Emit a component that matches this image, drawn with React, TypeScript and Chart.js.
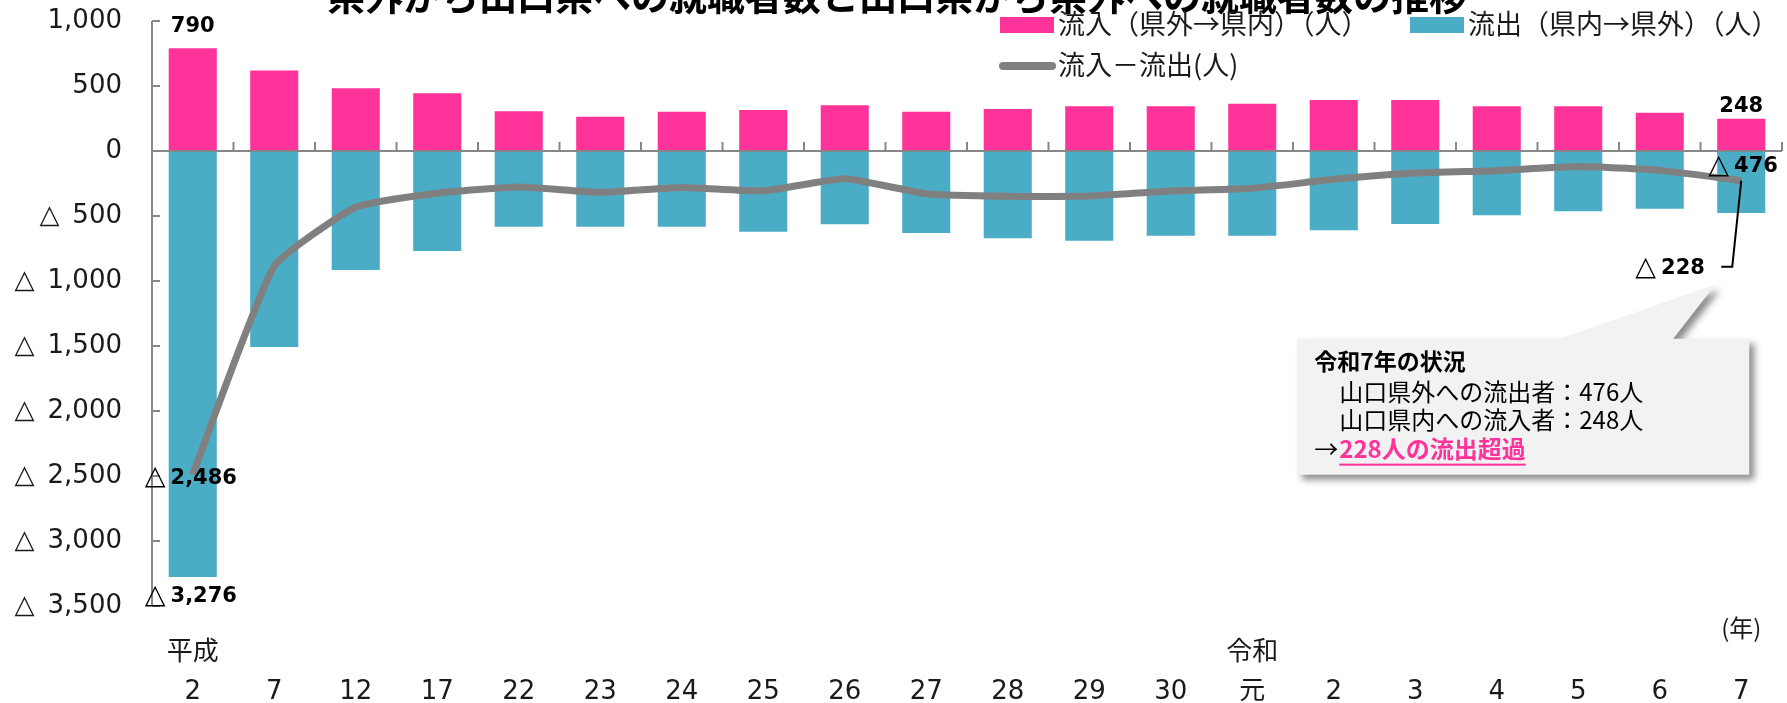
import React, { useEffect, useRef } from 'react';
import { Chart, registerables } from 'chart.js';

Chart.register(...registerables);

const W = 1787;
const H = 703;

const eraLabels = ['平成', '', '', '', '', '', '', '', '', '', '', '', '', '令和', '', '', '', '', '', ''];
const yearLabels = ['2', '7', '12', '17', '22', '23', '24', '25', '26', '27', '28', '29', '30', '元', '2', '3', '4', '5', '6', '7'];
const inflow = [790, 620, 482, 444, 305, 264, 302, 315, 351, 302, 323, 344, 344, 364, 392, 392, 344, 344, 295, 248];
const outflow = [-3276, -1508, -915, -769, -582, -582, -582, -621, -564, -631, -672, -690, -651, -651, -610, -562, -495, -464, -444, -476];
const net = [-2486, -888, -433, -325, -277, -318, -280, -306, -213, -329, -349, -346, -307, -287, -218, -170, -151, -120, -149, -228];
const yMin = -3500;
const yMax = 1000;
const yStep = 500;

const titleText = '県外から山口県への就職者数と山口県から県外への就職者数の推移';
const legendInflow = '流入（県外→県内）（人）';
const legendOutflow = '流出（県内→県外）（人）';
const legendNet = '流入－流出(人)';
const yearUnit = '(年)';
const calloutTitle = '令和7年の状況';
const calloutLines = ['山口県外への流出者：476人', '山口県内への流入者：248人'];
const calloutArrow = '→';
const calloutEmph = '228人の流出超過';

const PINK = '#FF3399';
const BLUE = '#4BACC6';
const GRAY = '#808080';
const AXIS = '#878787';
const TXT = '#1a1a1a';
const NUMFONT = '"DejaVu Sans", "Noto Sans CJK JP", sans-serif';
const JPFONT = '"Noto Sans CJK JP", sans-serif';

const fmt = (v: number) =>
  v < 0 ? '△\u2002' + Math.abs(v).toLocaleString('en-US') : v.toLocaleString('en-US');

function tri(ctx: CanvasRenderingContext2D, leftX: number, cy: number, num: string) {
  ctx.font = `27px ${NUMFONT}`;
  ctx.textAlign = 'left';
  ctx.textBaseline = 'middle';
  ctx.fillStyle = '#000';
  ctx.fillText('△', leftX, cy);
  const w = ctx.measureText('△').width;
  ctx.font = `bold 21px ${NUMFONT}`;
  ctx.fillText(num, leftX + w + 5, cy + 1);
}

const decor = {
  id: 'decor',
  afterDraw(chart: any) {
    const { ctx, chartArea, scales } = chart;
    const { left, right, top, bottom } = chartArea;
    const x = scales.x;
    const y = scales.y;
    const y0 = y.getPixelForValue(0);
    ctx.save();

    // y axis line + inward ticks
    ctx.strokeStyle = AXIS;
    ctx.lineWidth = 2;
    ctx.beginPath();
    ctx.moveTo(left, top);
    ctx.lineTo(left, bottom);
    for (let v = yMin; v <= yMax; v += yStep) {
      const py = y.getPixelForValue(v);
      ctx.moveTo(left, py);
      ctx.lineTo(left + 8, py);
    }
    ctx.stroke();

    // zero line with category boundary ticks
    ctx.beginPath();
    ctx.moveTo(left, y0);
    ctx.lineTo(right, y0);
    for (let i = 1; i <= yearLabels.length; i++) {
      const px = x.getPixelForValue(i - 0.5);
      ctx.moveTo(px, y0);
      ctx.lineTo(px, y0 - 9);
    }
    ctx.stroke();

    // category labels
    ctx.fillStyle = TXT;
    ctx.textAlign = 'center';
    ctx.textBaseline = 'middle';
    yearLabels.forEach((lab, i) => {
      const px = x.getPixelForValue(i);
      ctx.font = `26px ${NUMFONT}`;
      ctx.fillText(lab, px, 692);
      if (eraLabels[i]) {
        ctx.font = `26px ${JPFONT}`;
        ctx.fillText(eraLabels[i], px, 650);
      }
    });
    ctx.font = `24px ${JPFONT}`;
    ctx.fillText(yearUnit, x.getPixelForValue(yearLabels.length - 1), 628);

    // title (cut at top)
    ctx.font = `bold 38px ${JPFONT}`;
    ctx.textAlign = 'center';
    ctx.textBaseline = 'alphabetic';
    ctx.fillStyle = '#000';
    ctx.fillText(titleText, 897, 10);

    // legend
    ctx.font = `27px ${JPFONT}`;
    ctx.textAlign = 'left';
    ctx.textBaseline = 'middle';
    ctx.fillStyle = PINK;
    ctx.fillRect(1000, 17, 54, 16);
    ctx.fillStyle = BLUE;
    ctx.fillRect(1410, 17, 54, 16);
    ctx.strokeStyle = GRAY;
    ctx.lineWidth = 8;
    ctx.lineCap = 'round';
    ctx.beginPath();
    ctx.moveTo(1003, 66);
    ctx.lineTo(1052, 66);
    ctx.stroke();
    ctx.fillStyle = TXT;
    ctx.fillText(legendInflow, 1058, 24);
    ctx.fillText(legendOutflow, 1468, 24);
    ctx.fillText(legendNet, 1058, 65);

    // data labels
    const inMeta = chart.getDatasetMeta(1).data;
    const outMeta = chart.getDatasetMeta(2).data;
    const netMeta = chart.getDatasetMeta(0).data;
    const n = yearLabels.length;
    ctx.font = `bold 21px ${NUMFONT}`;
    ctx.textAlign = 'center';
    ctx.textBaseline = 'bottom';
    ctx.fillStyle = '#000';
    ctx.fillText(String(inflow[0]), inMeta[0].x, inMeta[0].y - 11);
    ctx.fillText(String(inflow[n - 1]), inMeta[n - 1].x, inMeta[n - 1].y - 2);

    tri(ctx, netMeta[0].x - 48, netMeta[0].y + 3, Math.abs(net[0]).toLocaleString('en-US'));
    tri(ctx, outMeta[0].x - 48, outMeta[0].y + 19, Math.abs(outflow[0]).toLocaleString('en-US'));

    const lp = netMeta[n - 1];
    tri(ctx, lp.x - 33, lp.y - 15, Math.abs(outflow[n - 1]).toLocaleString('en-US'));
    tri(ctx, lp.x - 106, lp.y + 87, Math.abs(net[n - 1]).toLocaleString('en-US'));

    // leader line
    ctx.strokeStyle = '#000';
    ctx.lineWidth = 2;
    ctx.lineCap = 'butt';
    ctx.beginPath();
    ctx.moveTo(lp.x, lp.y);
    ctx.lineTo(lp.x - 9, lp.y + 86);
    ctx.lineTo(lp.x - 20, lp.y + 86);
    ctx.stroke();

    // callout
    const bx0 = lp.x - 444;
    const bx1 = lp.x + 8;
    const by0 = lp.y + 158;
    const by1 = lp.y + 294;
    ctx.save();
    ctx.shadowColor = 'rgba(0,0,0,0.45)';
    ctx.shadowBlur = 7;
    ctx.shadowOffsetX = 5;
    ctx.shadowOffsetY = 5;
    ctx.fillStyle = '#F2F2F2';
    ctx.beginPath();
    ctx.moveTo(bx0, by0);
    ctx.lineTo(lp.x - 181, by0);
    ctx.lineTo(lp.x - 26, lp.y + 104);
    ctx.lineTo(lp.x - 68, by0);
    ctx.lineTo(bx1, by0);
    ctx.lineTo(bx1, by1);
    ctx.lineTo(bx0, by1);
    ctx.closePath();
    ctx.fill();
    ctx.restore();

    ctx.textAlign = 'left';
    ctx.textBaseline = 'middle';
    ctx.fillStyle = '#000';
    ctx.font = `bold 23px ${JPFONT}`;
    ctx.fillText(calloutTitle, bx0 + 17, lp.y + 181);
    ctx.font = `24px ${JPFONT}`;
    ctx.fillText(calloutLines[0], bx0 + 42, lp.y + 211);
    ctx.fillText(calloutLines[1], bx0 + 42, lp.y + 239);
    ctx.fillText(calloutArrow, bx0 + 17, lp.y + 268);
    ctx.font = `bold 24px ${JPFONT}`;
    ctx.fillStyle = PINK;
    ctx.fillText(calloutEmph, bx0 + 42, lp.y + 268);
    const ew = ctx.measureText(calloutEmph).width;
    ctx.fillRect(bx0 + 42, lp.y + 283, ew, 2);

    ctx.restore();
  },
};

export default function App() {
  const ref = useRef<HTMLCanvasElement | null>(null);
  useEffect(() => {
    document.body.style.margin = '0';
    const canvas = ref.current!;
    const chart = new Chart(canvas, {
      type: 'bar',
      data: {
        labels: yearLabels.map((l, i) => (eraLabels[i] ? eraLabels[i] + l : l)),
        datasets: [
          {
            type: 'line',
            label: legendNet,
            data: net,
            borderColor: GRAY,
            borderWidth: 7,
            pointRadius: 0,
            tension: 0.15,
            order: 0,
          } as any,
          {
            label: legendInflow,
            data: inflow,
            backgroundColor: PINK,
            stack: 's',
            order: 1,
          },
          {
            label: legendOutflow,
            data: outflow,
            backgroundColor: BLUE,
            stack: 's',
            order: 1,
          },
        ],
      },
      options: {
        responsive: false,
        animation: false,
        devicePixelRatio: 1,
        layout: { padding: { top: 21, right: 5, left: 0, bottom: 0 } },
        datasets: { bar: { barPercentage: 0.59, categoryPercentage: 1 } },
        plugins: { legend: { display: false }, tooltip: { enabled: false }, title: { display: false } },
        scales: {
          x: {
            stacked: true,
            offset: true,
            grid: { display: false },
            border: { display: false },
            ticks: { display: false },
            afterFit: (s: any) => {
              s.height = 97;
              s.paddingTop = 0;
              s.paddingBottom = 0;
            },
          },
          y: {
            stacked: true,
            min: yMin,
            max: yMax,
            grid: { display: false, drawTicks: false },
            border: { display: false },
            ticks: {
              stepSize: yStep,
              padding: 30,
              color: TXT,
              font: { family: NUMFONT, size: 26 },
              callback: (v: any) => fmt(Number(v)),
            },
            afterFit: (s: any) => {
              s.width = 152;
              s.paddingTop = 0;
              s.paddingBottom = 0;
            },
          },
        },
      },
      plugins: [decor],
    });
    return () => chart.destroy();
  }, []);
  return (
    <div style={{ position: 'absolute', left: 0, top: 0, width: W, height: H }}>
      <canvas ref={ref} width={W} height={H} style={{ display: 'block', width: W, height: H }} />
    </div>
  );
}
